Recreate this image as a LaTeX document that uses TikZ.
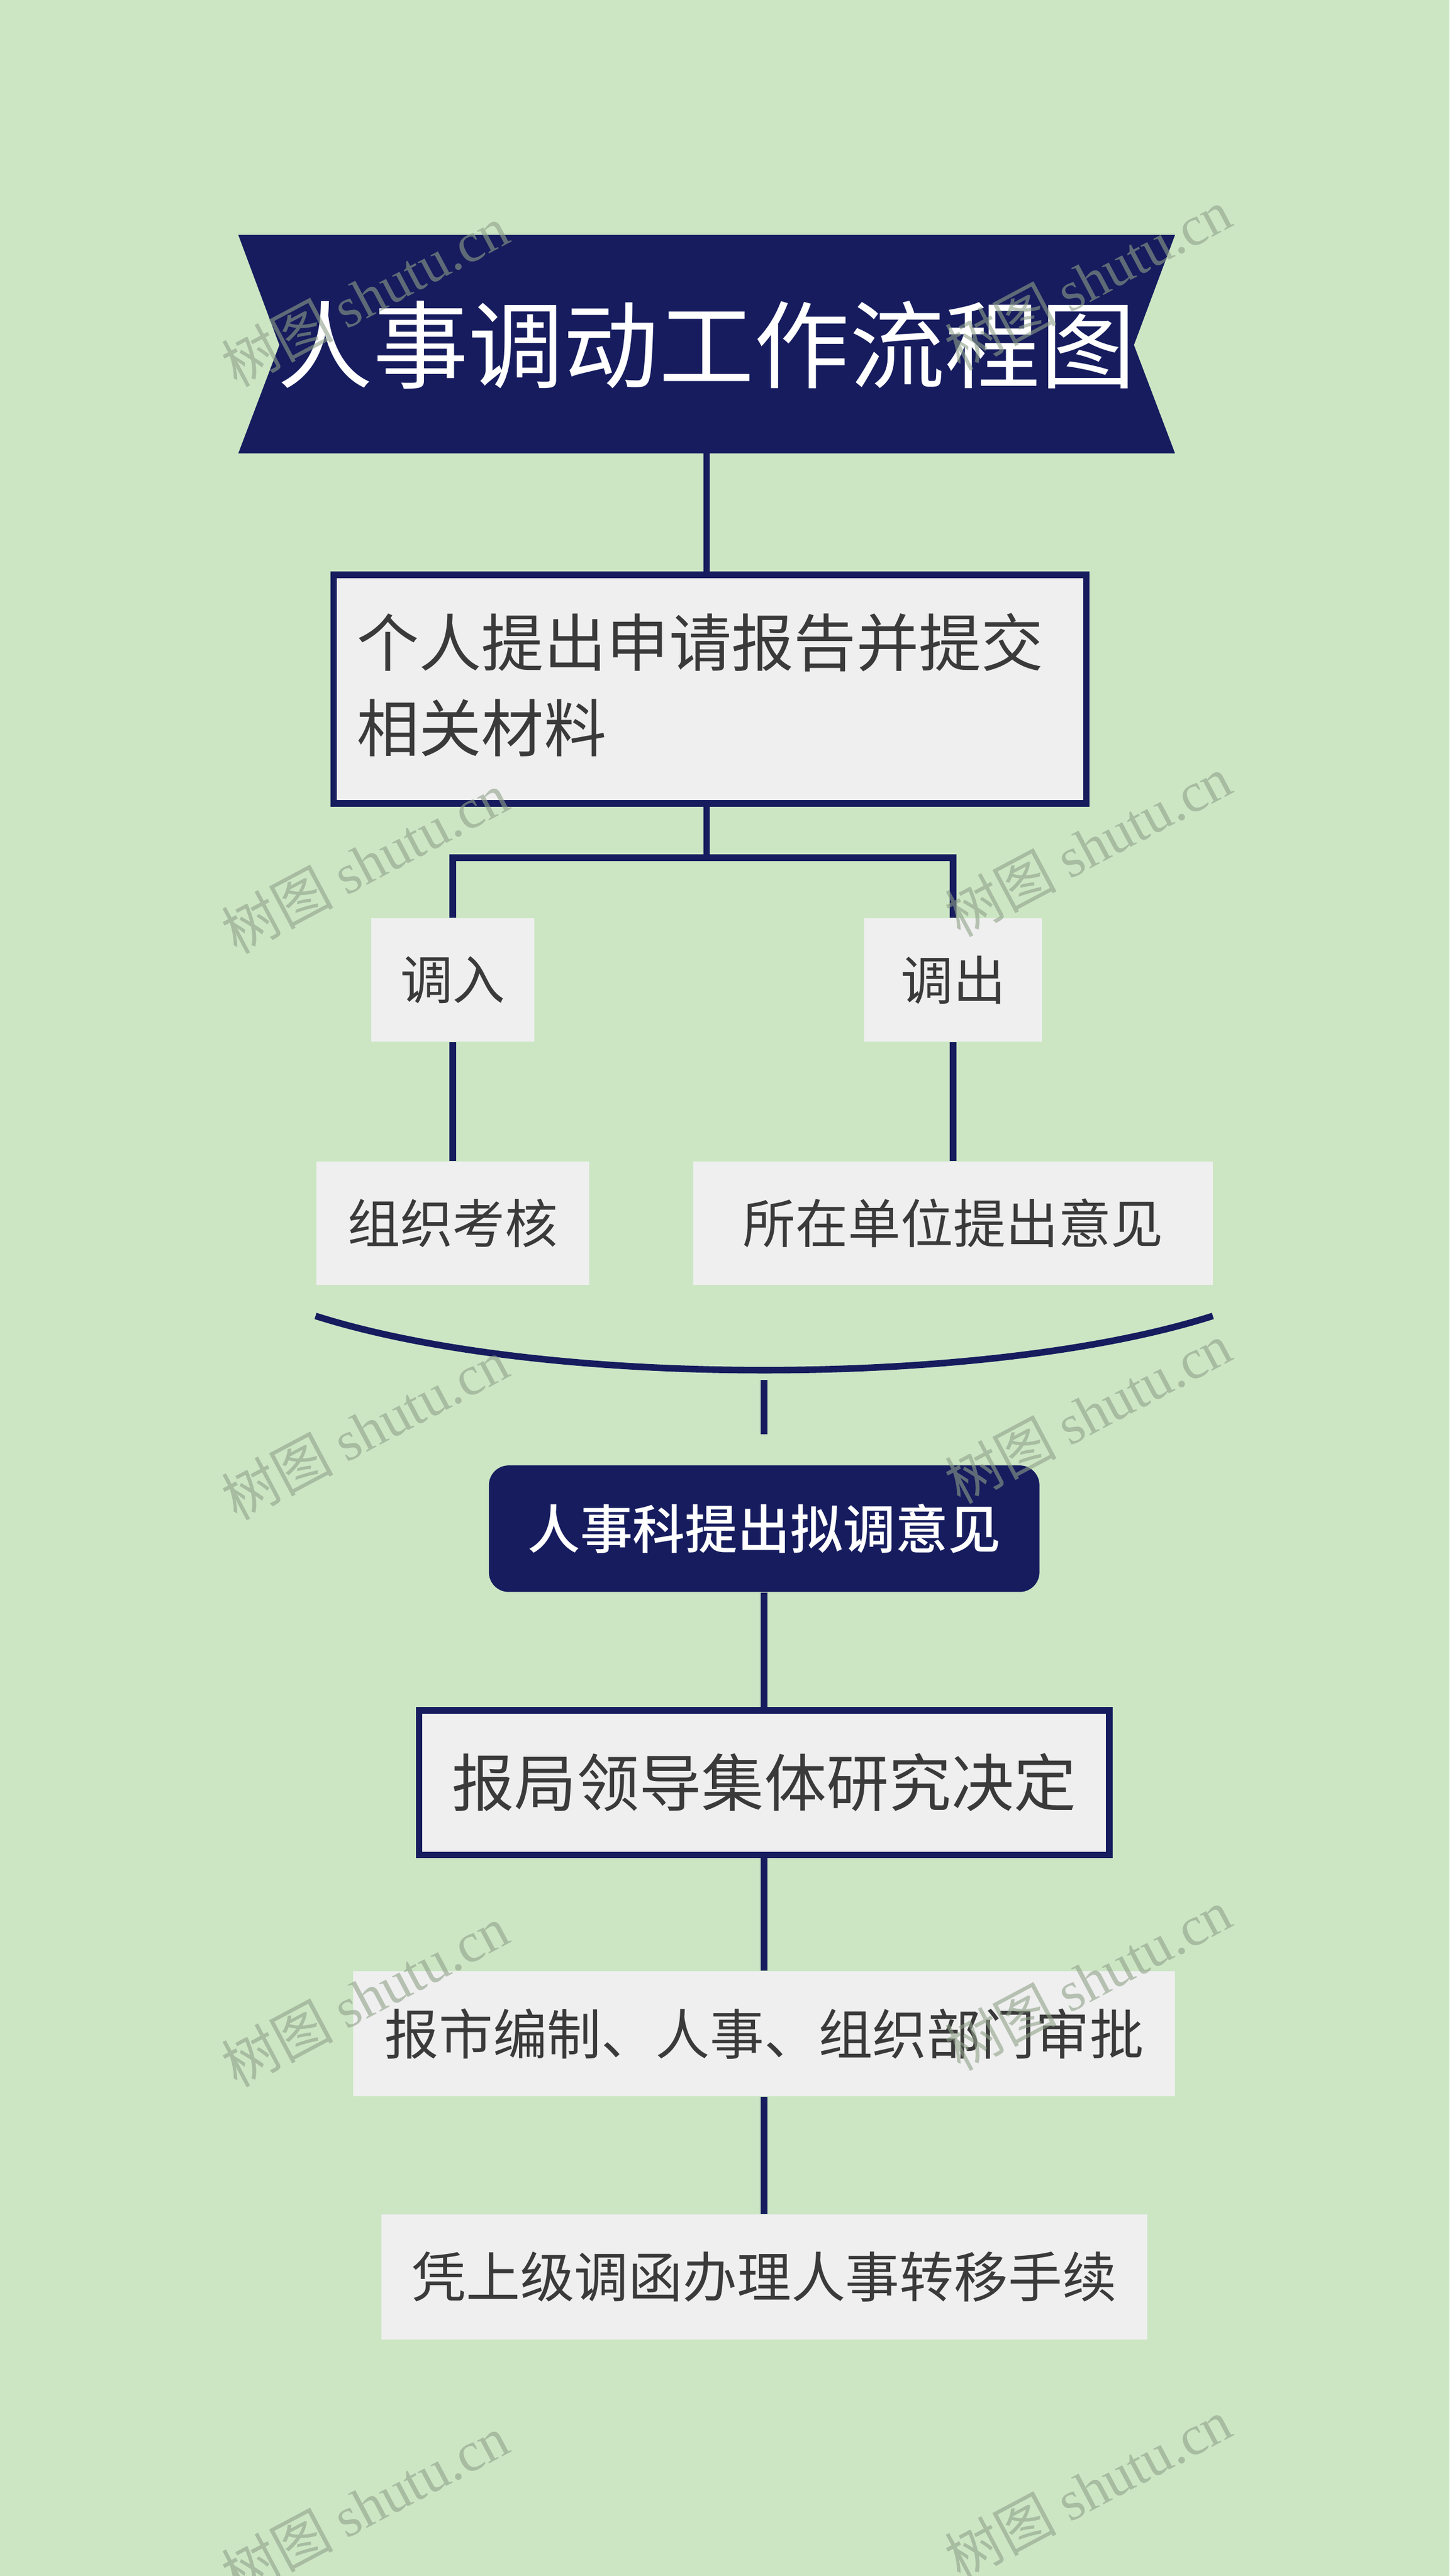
\documentclass[tikz,border=0pt]{standalone}
\usepackage{fontspec}
\setmainfont{Noto Sans CJK SC}
\newfontfamily\wmserif{Liberation Serif}
\newfontfamily\cjkbold{Noto Sans CJK SC Medium}
\definecolor{bg}{HTML}{CCE6C4}
\definecolor{navy}{HTML}{161C5E}
\definecolor{boxg}{HTML}{EFEFEF}
\definecolor{txt}{HTML}{3A3A3A}
\tikzset{
  lnk/.style={draw=navy,line width=2pt},
  plain/.style={fill=boxg,text=txt,inner sep=0pt},
  framed/.style={fill=boxg,draw=navy,line width=2pt,text=txt,inner sep=0pt},
  wm/.style={rotate=28,text=black!30!bg,font=\fontsize{17}{20}\selectfont}
}
\begin{document}
\begin{tikzpicture}[x=0.5pt,y=-0.5pt]
\fill[bg] (0,0) rectangle (882,1568);
\useasboundingbox (0,0) rectangle (882,1568);
% title
\fill[navy] (145,143) -- (715,143) -- (690,210) -- (715,276) -- (145,276) -- (170,210) -- cycle;
\node[text=white,font=\fontsize{29}{34}\selectfont] (title) at (430,210) {人事调动工作流程图};
\coordinate (tb) at (430,276);
% box1
\node[framed,minimum width=229pt,minimum height=69.5pt,anchor=north west] (b1) at (201,348) {};
\node[text=txt,anchor=west,align=left,font=\fontsize{19}{26}\selectfont] (b1t) at (210,417) {个人提出申请报告并提交\\相关材料};
\draw[lnk] (tb) -- (tb |- b1.north);
\coordinate (j) at (430,522);
\draw[lnk] (j |- b1.south) -- (j);
\node[plain,minimum width=49.5pt,minimum height=37.5pt,font=\fontsize{16}{19}\selectfont] (in) at (275.5,596.5) {调入};
\node[plain,minimum width=54pt,minimum height=37.5pt,font=\fontsize{16}{19}\selectfont] (out) at (580,596.5) {调出};
\draw[lnk] (in.north) |- (j) -| (out.north);
\node[plain,minimum width=83pt,minimum height=37.5pt,font=\fontsize{16}{19}\selectfont] (kh) at (275.5,744.5) {组织考核};
\node[plain,minimum width=158pt,minimum height=37.5pt,font=\fontsize{16}{19}\selectfont] (yj) at (580,744.5) {所在单位提出意见};
\draw[lnk] (in.south) -- (in.south |- kh.north);
\draw[lnk] (out.south) -- (out.south |- yj.north);
% brace curve
\coordinate (cl) at (192,801);
\coordinate (cr) at (738,801);
\draw[lnk] (cl) .. controls (330,845) and (600,845) .. (cr);
\node[fill=navy,rounded corners=6pt,text=white,minimum width=167.5pt,minimum height=38.5pt,inner sep=0pt,font=\cjkbold\fontsize{16}{19}\selectfont] (rs) at (465,930.5) {人事科提出拟调意见};
\coordinate (ct) at (465,840);
\coordinate (cb) at (465,873);
\draw[lnk] (ct) -- (cb);
\node[framed,minimum width=210pt,minimum height=44pt,font=\fontsize{19}{22}\selectfont] (jd) at (465,1085) {报局领导集体研究决定};
\draw[lnk] (rs.south) -- (rs.south |- jd.north);
\node[plain,minimum width=250pt,minimum height=38pt,font=\fontsize{16.5}{19}\selectfont] (sp) at (465,1238) {报市编制、人事、组织部门审批};
\draw[lnk] (jd.south) -- (jd.south |- sp.north);
\node[plain,minimum width=233pt,minimum height=38pt,font=\fontsize{16.5}{19}\selectfont] (zy) at (465,1386) {凭上级调函办理人事转移手续};
\draw[lnk] (sp.south) -- (sp.south |- zy.north);
% watermarks
\foreach \yy in {180,525,870,1215,1525}{
  \node[wm,opacity=0.6] (wl\yy) at (222,\yy) {树图 {\wmserif shutu.cn}};
  \node[wm,opacity=0.6] (wr\yy) at (662,\yy-10) {树图 {\wmserif shutu.cn}};
}
\end{tikzpicture}
\end{document}
